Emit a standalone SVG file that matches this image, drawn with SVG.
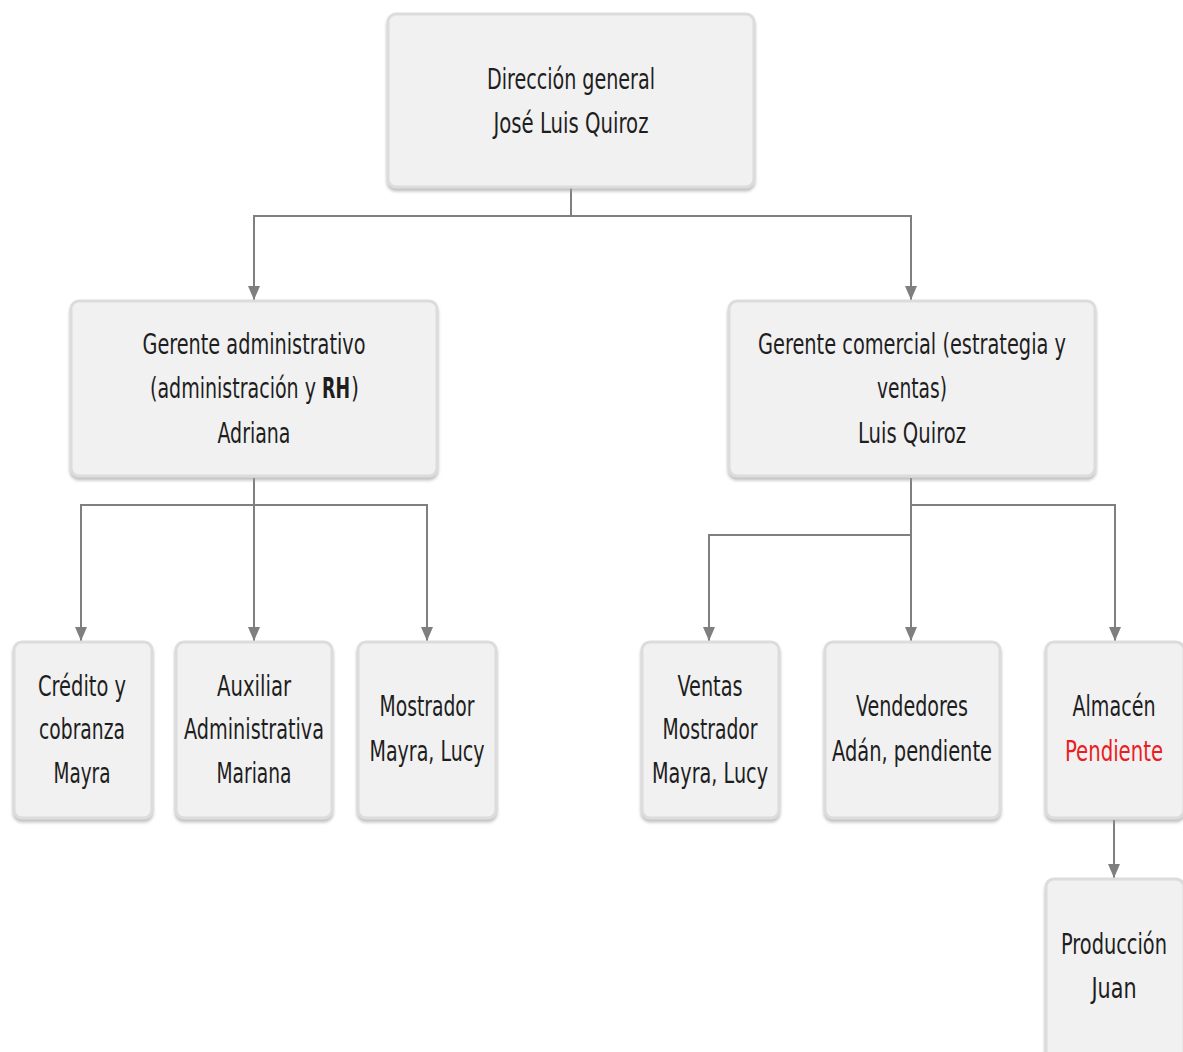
<svg xmlns="http://www.w3.org/2000/svg" width="1183" height="1052" viewBox="0 0 1183 1052">
<style>
.box{fill:#f1f1f1;stroke:#dcdcdc;stroke-width:3;filter:url(#sh)}
.t{font-family:"DejaVu Sans","Liberation Sans",sans-serif;font-stretch:condensed;font-size:28px;fill:#1e1e1e;text-anchor:middle}
.s{text-anchor:start}
.c{fill:none;stroke:#7f7f7f;stroke-width:2;marker-end:url(#ah)}
</style>
<defs>
<filter id="sh" x="-10%" y="-10%" width="120%" height="125%">
<feDropShadow dx="0" dy="3" stdDeviation="1.5" flood-color="#999" flood-opacity="0.6"/>
</filter>
<marker id="ah" viewBox="0 0 14 12" refX="14" refY="6" markerWidth="14" markerHeight="12" markerUnits="userSpaceOnUse" orient="auto">
<path d="M0,0 L14,6 L0,12 z" fill="#7f7f7f"/>
</marker>
</defs>
<rect width="1183" height="1052" fill="#fff"/>
<g id="connectors">
<path class="c" d="M571,188 V216 H254 V300"/>
<path class="c" d="M571,216 H911 V300"/>
<path class="c" d="M254,478 V505 H81 V641"/>
<path class="c" d="M254,505 V641"/>
<path class="c" d="M254,505 H427 V641"/>
<path class="c" d="M911,478 V535 H709 V641"/>
<path class="c" d="M911,535 V641"/>
<path class="c" d="M911,505 H1115 V641"/>
<path class="c" d="M1114,820 V878"/>
</g>
<g id="n-direccion">
<rect class="box" x="388" y="14" width="366" height="173" rx="8"/>
<text class="t" x="571" y="89" textLength="168" lengthAdjust="spacingAndGlyphs">Dirección general</text>
<text class="t" x="571" y="133" textLength="155" lengthAdjust="spacingAndGlyphs">José Luis Quiroz</text>
</g>
<g id="n-admin">
<rect class="box" x="71" y="301" width="366" height="175" rx="8"/>
<text class="t" x="254" y="354" textLength="223" lengthAdjust="spacingAndGlyphs">Gerente administrativo</text>
<text class="t s" x="150" y="398" textLength="166" lengthAdjust="spacingAndGlyphs">(administración y</text>
<text class="t s" x="322" y="398" textLength="28" lengthAdjust="spacingAndGlyphs" font-weight="bold">RH</text>
<text class="t s" x="351" y="398" textLength="8" lengthAdjust="spacingAndGlyphs">)</text>
<text class="t" x="254" y="443" textLength="73" lengthAdjust="spacingAndGlyphs">Adriana</text>
</g>
<g id="n-comercial">
<rect class="box" x="729" y="301" width="366" height="175" rx="8"/>
<text class="t" x="912" y="354" textLength="308" lengthAdjust="spacingAndGlyphs">Gerente comercial (estrategia y</text>
<text class="t" x="912" y="398" textLength="70" lengthAdjust="spacingAndGlyphs">ventas)</text>
<text class="t" x="912" y="443" textLength="108" lengthAdjust="spacingAndGlyphs">Luis Quiroz</text>
</g>
<g id="n-credito">
<rect class="box" x="14" y="642" width="138" height="176" rx="8"/>
<text class="t" x="82" y="696" textLength="88" lengthAdjust="spacingAndGlyphs">Crédito y</text>
<text class="t" x="82" y="739" textLength="86" lengthAdjust="spacingAndGlyphs">cobranza</text>
<text class="t" x="82" y="783" textLength="57" lengthAdjust="spacingAndGlyphs">Mayra</text>
</g>
<g id="n-auxiliar">
<rect class="box" x="176" y="642" width="156" height="176" rx="8"/>
<text class="t" x="254" y="696" textLength="74" lengthAdjust="spacingAndGlyphs">Auxiliar</text>
<text class="t" x="254" y="739" textLength="140" lengthAdjust="spacingAndGlyphs">Administrativa</text>
<text class="t" x="254" y="783" textLength="75" lengthAdjust="spacingAndGlyphs">Mariana</text>
</g>
<g id="n-mostrador">
<rect class="box" x="358" y="642" width="138" height="176" rx="8"/>
<text class="t" x="427" y="716" textLength="95" lengthAdjust="spacingAndGlyphs">Mostrador</text>
<text class="t" x="427" y="761" textLength="115" lengthAdjust="spacingAndGlyphs">Mayra, Lucy</text>
</g>
<g id="n-ventas">
<rect class="box" x="642" y="642" width="137" height="176" rx="8"/>
<text class="t" x="710" y="696" textLength="65" lengthAdjust="spacingAndGlyphs">Ventas</text>
<text class="t" x="710" y="739" textLength="95" lengthAdjust="spacingAndGlyphs">Mostrador</text>
<text class="t" x="710" y="783" textLength="116" lengthAdjust="spacingAndGlyphs">Mayra, Lucy</text>
</g>
<g id="n-vendedores">
<rect class="box" x="825" y="642" width="175" height="176" rx="8"/>
<text class="t" x="912" y="716" textLength="112" lengthAdjust="spacingAndGlyphs">Vendedores</text>
<text class="t" x="912" y="761" textLength="160" lengthAdjust="spacingAndGlyphs">Adán, pendiente</text>
</g>
<g id="n-almacen">
<rect class="box" x="1046" y="642" width="138" height="176" rx="8"/>
<text class="t" x="1114" y="716" textLength="83" lengthAdjust="spacingAndGlyphs">Almacén</text>
<text class="t" x="1114" y="761" textLength="98" lengthAdjust="spacingAndGlyphs" style="fill:#e8201f">Pendiente</text>
</g>
<g id="n-produccion">
<rect class="box" x="1046" y="879" width="138" height="180" rx="8"/>
<text class="t" x="1114" y="954" textLength="106" lengthAdjust="spacingAndGlyphs">Producción</text>
<text class="t" x="1114" y="998" textLength="45" lengthAdjust="spacingAndGlyphs">Juan</text>
</g>
</svg>
